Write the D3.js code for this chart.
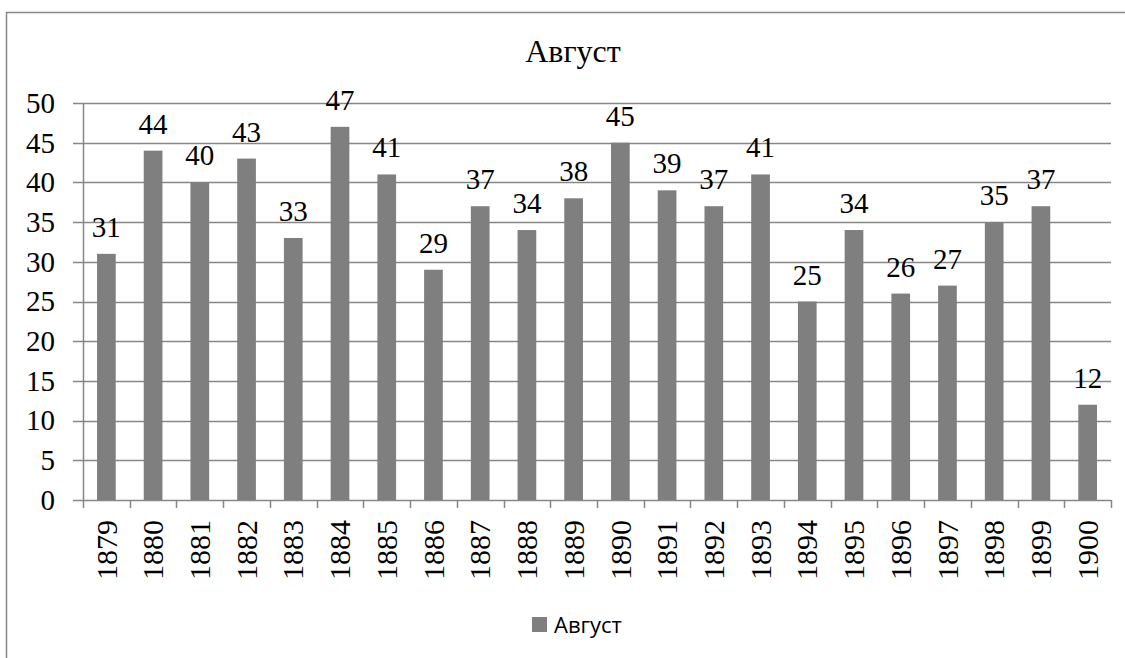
<!DOCTYPE html>
<html>
<head>
<meta charset="utf-8">
<script src="https://cdn.jsdelivr.net/npm/d3@7/dist/d3.min.js"></script>
<style>
  html, body { margin: 0; padding: 0; background: #fff; }
  svg { display: block; }
</style>
</head>
<body>
<svg id="chart" width="1125" height="658"></svg>
<script>
const categories = ["1879","1880","1881","1882","1883","1884","1885","1886","1887","1888","1889","1890","1891","1892","1893","1894","1895","1896","1897","1898","1899","1900"];
const values = [31,44,40,43,33,47,41,29,37,34,38,45,39,37,41,25,34,26,27,35,37,12];
const yTicks = [0,5,10,15,20,25,30,35,40,45,50];
const seriesName = "Август";
const titleText = "Август";

const W = 1125, H = 658;
const margin = {left: 83, right: 14, top: 103, bottom: 158};
const x0 = margin.left, x1 = W - margin.right;
const y0 = H - margin.bottom, y1 = margin.top;

const svg = d3.select("#chart");
const serif = "'Liberation Serif', 'Times New Roman', serif";
const gridColor = "#878787";
const barColor = "#7f7f7f";

// outer frame
svg.append("rect").attr("x", 6.5).attr("y", 12.5).attr("width", 1130).attr("height", 700)
  .attr("fill", "#fff").attr("stroke", "#878787").attr("stroke-width", 1.5);

const xb = d3.scaleBand().domain(categories).range([x0, x1]);
const y = d3.scaleLinear().domain([0, 50]).range([y0, y1]);

// gridlines
svg.append("g").selectAll("line").data(yTicks).join("line")
  .attr("x1", x0 - 10).attr("x2", x1)
  .attr("y1", d => Math.round(y(d)) + 0.5).attr("y2", d => Math.round(y(d)) + 0.5)
  .attr("stroke", gridColor).attr("stroke-width", 1.5);

// y axis line
svg.append("line").attr("x1", x0 + 0.5).attr("x2", x0 + 0.5).attr("y1", y(50)).attr("y2", y(0))
  .attr("stroke", gridColor).attr("stroke-width", 1.5);

// y tick labels
svg.append("g").selectAll("text").data(yTicks).join("text")
  .attr("x", 55).attr("y", d => y(d))
  .attr("dy", "0.34em")
  .attr("text-anchor", "end")
  .attr("font-family", serif).attr("font-size", 29)
  .attr("fill", "#000")
  .text(d => d);

// x axis tick marks at category boundaries
const bounds = categories.map(c => xb(c)).concat([xb(categories[categories.length - 1]) + xb.bandwidth()]);
svg.append("g").selectAll("line").data(bounds).join("line")
  .attr("x1", d => Math.round(d) + 0.5).attr("x2", d => Math.round(d) + 0.5)
  .attr("y1", y0).attr("y2", y0 + 8)
  .attr("stroke", gridColor).attr("stroke-width", 1.5);

// bars
svg.append("g").selectAll("rect").data(values).join("rect")
  .attr("x", (d, i) => xb(categories[i]) + xb.bandwidth() / 2 - xb.bandwidth() * 0.2)
  .attr("width", xb.bandwidth() * 0.4)
  .attr("y", d => y(d))
  .attr("height", d => y(0) - y(d))
  .attr("fill", barColor);

// data labels
svg.append("g").selectAll("text").data(values).join("text")
  .attr("x", (d, i) => xb(categories[i]) + xb.bandwidth() / 2)
  .attr("y", d => y(d) - 17)
  .attr("text-anchor", "middle")
  .attr("font-family", serif).attr("font-size", 29)
  .attr("fill", "#000")
  .text(d => d);

// x labels rotated
svg.append("g").selectAll("text").data(categories).join("text")
  .attr("transform", c => `translate(${xb(c) + xb.bandwidth() / 2},520) rotate(-90)`)
  .attr("text-anchor", "end")
  .attr("dy", "0.34em")
  .attr("font-family", serif).attr("font-size", 30)
  .attr("fill", "#000")
  .text(c => c);

// title
svg.append("text").attr("x", 573).attr("y", 62).attr("text-anchor", "middle")
  .attr("font-family", serif).attr("font-size", 32).attr("fill", "#000")
  .text(titleText);

// legend
svg.append("rect").attr("x", 532).attr("y", 617).attr("width", 15).attr("height", 15).attr("fill", barColor);
svg.append("text").attr("x", 554).attr("y", 633)
  .attr("font-family", "'Open Sans', 'Noto Sans', sans-serif").attr("font-size", 22).attr("fill", "#000")
  .text(seriesName);
</script>
</body>
</html>
